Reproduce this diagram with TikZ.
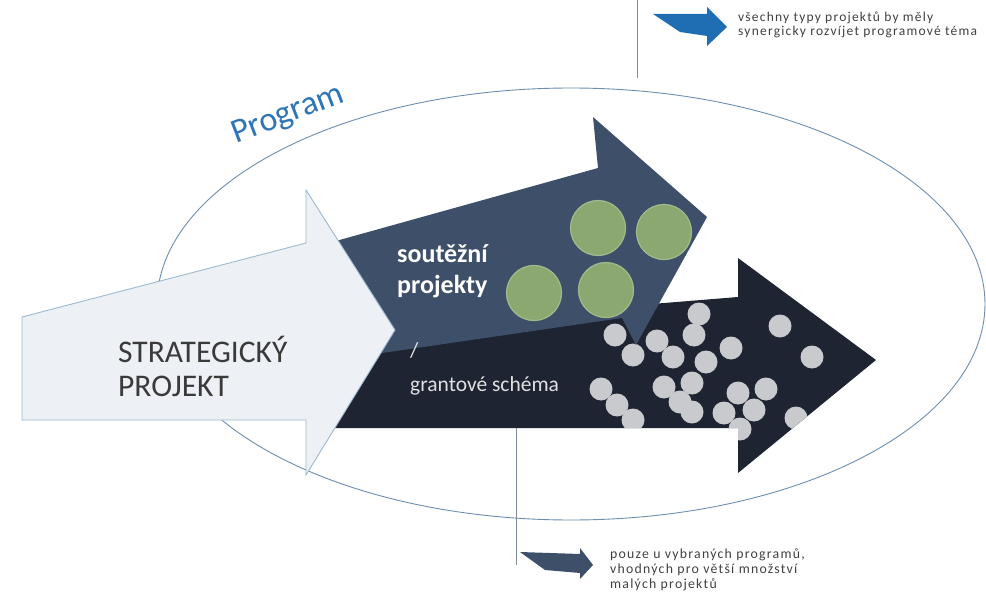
\documentclass[tikz,border=0pt]{standalone}
\usepackage{fontspec}
\setmainfont{Carlito}
\newfontfamily\spacedfont[LetterSpace=9]{Carlito}
\definecolor{slateC}{HTML}{3D4F69}
\definecolor{darkC}{HTML}{1E2431}
\definecolor{stratFill}{HTML}{EDF1F5}
\definecolor{stratLine}{HTML}{9DB8CF}
\definecolor{ellC}{HTML}{6C8EB0}
\definecolor{progC}{HTML}{2E75B6}
\definecolor{blueArr}{HTML}{1F6EB3}
\definecolor{greenC}{HTML}{8BA870}
\definecolor{greenL}{HTML}{A3BB8C}
\definecolor{grayDot}{HTML}{C8CACD}
\definecolor{txtC}{HTML}{404040}
\definecolor{lineC}{HTML}{7F8C99}
\tikzset{
  gdot/.style={fill=greenC,draw=greenL,line width=1.2pt},
  sdot/.style={fill=grayDot},
  toptxt/.style={anchor=base west,inner sep=0pt,text=txtC,font=\spacedfont\fontsize{13.5}{13}\selectfont},
  bottxt/.style={anchor=base west,inner sep=0pt,text=txtC,font=\spacedfont\fontsize{13.8}{15}\selectfont},
  bigtxt/.style={anchor=base west,inner sep=0pt,text=txtC!90!black,font=\fontsize{31.5}{34}\selectfont},
  whitetxt/.style={anchor=base west,inner sep=0pt,text=white,font=\bfseries\fontsize{26}{30}\selectfont},
  greytxt/.style={anchor=base west,inner sep=0pt,text=white!88!black,font=\fontsize{21.5}{30}\selectfont},
  conn/.style={draw=lineC,line width=0.9pt}
}
\begin{document}
\begin{tikzpicture}[x=1pt,y=-1pt]
\useasboundingbox (0,0) rectangle (986,594);
% ellipse
\draw[ellC,line width=0.9pt] (571,304) ellipse [x radius=414, y radius=216];
% dark arrow with grey dots
\path[fill=darkC] (320,331) -- (738,297) -- (738,258) -- (876,360) -- (738,473) -- (738,428) -- (320,428) -- cycle;
\begin{scope}
\clip (320,331) -- (738,297) -- (738,258) -- (876,360) -- (738,473) -- (738,428) -- (320,428) -- cycle;
\foreach \p in {(699,314),(694,335),(615,335),(657,341),(633,355),(673,357),(731,348),(706,362),(780,326),(812,357),(601,389),(664,387),(692,383),(617,405),(680,402),(692,412),(633,420),(738,393),(766,389),(754,410),(724,413),(740,429),(796,418)}
  \fill[sdot] \p circle [radius=11.5];
\end{scope}
% slate arrow
\path[fill=slateC] (300,251) -- (598,168) -- (593,117) -- (707,217) -- (636,345) -- (622,318) -- (300,365) -- cycle;
\draw[gdot] (598,228) circle [radius=27.5];
\draw[gdot] (664,232) circle [radius=27.5];
\draw[gdot] (534,293) circle [radius=27.5];
\draw[gdot] (606,290) circle [radius=27.5];
% strategic arrow
\draw[fill=stratFill,draw=stratLine,line width=0.9pt] (22,317) -- (306,243) -- (306,190) -- (395,330) -- (306,475) -- (306,420) -- (22,420) -- cycle;
% texts
\node[bigtxt] (s1) at (118,362) {STRATEGICKÝ};
\node[bigtxt] (s2) at (118,396) {PROJEKT};
\node[whitetxt] (c1) at (397,262) {soutěžní};
\node[whitetxt] (c2) at (397,293) {projekty};
\node[greytxt] (g1) at (410,357) {/};
\node[greytxt] (g2) at (410,391) {grantové schéma};
\node[text=progC,font=\fontsize{34}{36}\selectfont,rotate=21,inner sep=0pt] (prog) at (288,115) {Program};
% top legend
\coordinate (t0) at (637,0);
\coordinate (t1) at (637,78);
\draw[conn] (t0) -- (t1);
\path[fill=blueArr] (653,14) -- (707,14) -- (707,7) -- (727,27) -- (707,46) -- (707,36) -- (680,32) -- cycle;
\node[toptxt] (tt1) at (738,22) {všechny typy projektů by měly};
\node[toptxt] (tt2) at (738,36) {synergicky rozvíjet programové téma};
% bottom legend
\coordinate (b0) at (516,428);
\coordinate (b1) at (516,565);
\draw[conn] (b0) -- (b1);
\path[fill=slateC] (520,552) -- (580,554) -- (580,548) -- (593,565) -- (580,579) -- (580,573) -- (545,570) -- cycle;
\node[bottxt] (bt1) at (610,558) {pouze u vybraných programů,};
\node[bottxt] (bt2) at (610,573) {vhodných pro větší množství};
\node[bottxt] (bt3) at (610,588) {malých projektů};
\end{tikzpicture}
\end{document}
